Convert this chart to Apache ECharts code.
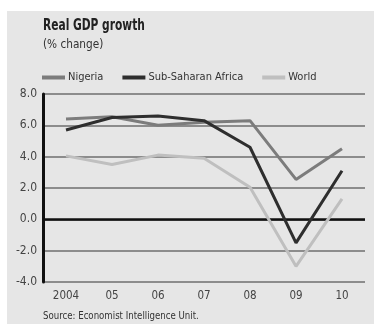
<!DOCTYPE html>
<html>
<head>
<meta charset="utf-8">
<script src="https://cdn.jsdelivr.net/npm/echarts@6/dist/echarts.min.js"></script>
<style>
  html, body { margin: 0; padding: 0; background: #ffffff; }
  #chart { width: 374px; height: 324px; }
</style>
</head>
<body>
<div id="chart"></div>
<script>
// Real GDP growth, % change
const years = ['2004', '05', '06', '07', '08', '09', '10'];
const nigeria = [6.4, 6.55, 6.0, 6.2, 6.3, 2.55, 4.5];
const subSaharan = [5.7, 6.5, 6.6, 6.3, 4.6, -1.5, 3.1];
const world = [4.05, 3.5, 4.1, 3.9, 2.05, -3.0, 1.3];
const yTicks = [-4, -2, 0, 2, 4, 6, 8];

const FONT = '"Liberation Sans Narrow", "DejaVu Sans Condensed", "Liberation Sans", sans-serif';

const chart = echarts.init(document.getElementById('chart'), null, { renderer: 'canvas' });

function lineSeries(name, data, color) {
  return {
    name: name,
    type: 'line',
    data: data,
    symbol: 'none',
    lineStyle: { color: color, width: 3 },
    itemStyle: { color: color },
    z: 3
  };
}

const series = [
  lineSeries('Nigeria', nigeria, '#7c7c7c'),
  lineSeries('Sub-Saharan Africa', subSaharan, '#2e2e2e'),
  lineSeries('World', world, '#bfbfbf')
];
// black baseline at zero
series[0].markLine = {
  silent: true,
  symbol: 'none',
  label: { show: false },
  lineStyle: { color: '#111', width: 2.5, type: 'solid' },
  data: [{ yAxis: 0 }],
  z: 2
};

chart.setOption({
  backgroundColor: '#ffffff',
  animation: false,
  graphic: [
    { type: 'rect', shape: { x: 7, y: 11, width: 367, height: 313 }, style: { fill: '#e6e6e6' }, z: -10 },
    { type: 'text', x: 43, y: 19, scaleX: 0.79, style: { text: 'Real GDP growth', font: 'bold 15px ' + FONT, fill: '#222' } },
    { type: 'text', x: 43, y: 38, scaleX: 0.9, style: { text: '(% change)', font: '13px ' + FONT, fill: '#333' } },
    { type: 'text', x: 43, y: 311, scaleX: 0.87, style: { text: 'Source: Economist Intelligence Unit.', font: '11px ' + FONT, fill: '#333' } }
  ],
  legend: {
    left: 42,
    top: 72,
    padding: 0,
    itemWidth: 23,
    itemHeight: 4,
    itemGap: 19,
    icon: 'rect',
    textStyle: { fontFamily: FONT, fontSize: 11, color: '#333', padding: [0, 0, 0, -2] },
    data: ['Nigeria', 'Sub-Saharan Africa', 'World']
  },
  grid: { left: 43, right: 9, top: 94, bottom: 42 },
  xAxis: {
    type: 'category',
    data: years,
    boundaryGap: true,
    axisLine: { show: false },
    axisTick: { show: false },
    axisLabel: { fontFamily: FONT, fontSize: 11.5, color: '#444', margin: 8 }
  },
  yAxis: {
    type: 'value',
    min: yTicks[0],
    max: yTicks[yTicks.length - 1],
    interval: 2,
    axisLine: { show: true, lineStyle: { color: '#111', width: 3 } },
    axisTick: { show: false },
    axisLabel: {
      fontFamily: FONT, fontSize: 12, color: '#444', margin: 6,
      formatter: v => v.toFixed(1)
    },
    splitLine: { show: true, lineStyle: { color: '#6e6e6e', width: 1.5 } }
  },
  series: series
});
</script>
</body>
</html>
